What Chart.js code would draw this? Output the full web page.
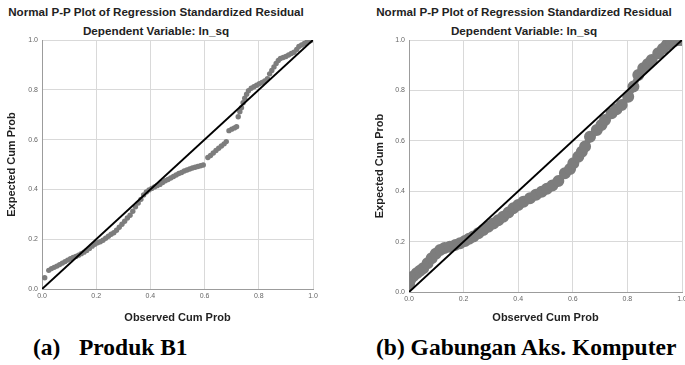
<!DOCTYPE html>
<html>
<head>
<meta charset="utf-8">
<script src="https://cdn.jsdelivr.net/npm/chart.js@4.4.1/dist/chart.umd.min.js"></script>
<style>
body { margin:0; width:685px; height:365px; overflow:hidden; background:#fff; position:relative; font-family:"Liberation Sans", Arial, sans-serif; }
.box { position:absolute; top:0; width:330px; height:330px; }
.title { position:absolute; width:340px; text-align:center; font-weight:bold; color:#222; white-space:nowrap; line-height:14px; }
.t1 { top:5px; font-size:11.6px; }
.t2 { top:24px; font-size:11.7px; }
.cap { position:absolute; top:333px; font-family:"Liberation Serif", "Times New Roman", serif; font-weight:bold; font-size:23.5px; line-height:28px; color:#000; white-space:nowrap; }
</style>
</head>
<body>
<div class="title t1" style="left:-14px">Normal P-P Plot of Regression Standardized Residual</div>
<div class="title t2" style="left:-14px">Dependent Variable: ln_sq</div>
<div class="title t1" style="left:354px">Normal P-P Plot of Regression Standardized Residual</div>
<div class="title t2" style="left:354px">Dependent Variable: ln_sq</div>

<div class="box" style="left:0"><canvas id="chartB1"></canvas></div>
<div class="box" style="left:365px"><canvas id="chartGab"></canvas></div>

<div class="cap" style="left:33px">(a)</div>
<div class="cap" style="left:79px">Produk B1</div>
<div class="cap" style="left:376px">(b) Gabungan Aks. Komputer</div>

<script>
// ---------- DATA ----------
const tickValues = [0, 0.2, 0.4, 0.6, 0.8, 1.0];
const diagonal = [0, 1];

// (a) Produk B1 - observed vs expected cum prob
const observedB1 = [
    0.010,0.025,0.035,0.045,0.055,0.065,0.075,0.085,0.095,0.105,0.115,0.125,0.135,0.145,0.155,0.165,0.175,0.185,0.195,
    0.205,0.215,0.225,0.235,0.245,0.255,0.265,0.275,0.285,0.295,0.305,0.315,0.325,0.335,0.345,0.355,0.365,0.375,0.385,0.395,0.405,
    0.415,0.425,0.435,0.445,0.455,0.465,0.475,0.485,0.495,0.505,0.515,0.525,0.535,0.545,0.555,0.565,0.575,0.585,0.595,
    0.612,0.622,0.632,0.642,0.652,0.662,0.672,0.680,
    0.690,0.700,0.710,0.718,
    0.724,0.730,0.736,0.742,0.748,0.755,0.762,0.772,0.782,0.792,0.802,0.812,0.822,0.832,0.840,0.848,
    0.856,0.864,0.872,0.880,0.890,0.900,0.910,0.920,0.930,0.940,0.948,0.958,0.968,0.978,0.988,0.996
];
const expectedB1 = [
    0.045,0.075,0.082,0.087,0.092,0.098,0.104,0.110,0.116,0.122,0.127,0.131,0.136,0.142,0.148,0.155,0.163,0.172,0.180,
    0.186,0.190,0.196,0.204,0.212,0.220,0.226,0.236,0.248,0.260,0.272,0.285,0.296,0.312,0.330,0.345,0.360,0.378,0.390,0.398,0.404,
    0.410,0.415,0.420,0.428,0.435,0.440,0.446,0.452,0.458,0.464,0.468,0.474,0.478,0.482,0.486,0.489,0.492,0.495,0.498,
    0.528,0.536,0.546,0.556,0.565,0.574,0.583,0.592,
    0.636,0.642,0.647,0.652,
    0.692,0.712,0.728,0.748,0.766,0.782,0.796,0.806,0.812,0.818,0.824,0.830,0.836,0.845,0.864,0.878,
    0.892,0.906,0.918,0.926,0.930,0.934,0.940,0.946,0.951,0.962,0.974,0.980,0.986,0.992,0.996,1.000
];

// (b) Gabungan Aks. Komputer - dense band of residuals
const observedGab = [
    0.000,0.004,0.015,0.028,0.040,0.052,0.068,0.083,0.098,0.114,0.130,0.150,0.170,0.187,0.205,
    0.220,0.236,0.254,0.272,0.290,0.309,0.327,0.345,0.364,0.382,0.400,0.419,0.443,0.465,0.486,
    0.505,0.525,0.547,0.571,0.590,0.602,0.620,0.633,0.645,0.663,0.688,0.705,0.718,0.742,0.760,
    0.779,0.803,0.822,0.840,0.858,0.875,0.889,0.913,0.930,0.944,0.960,0.974,0.988,0.999
];
const expectedGab = [
    0.030,0.048,0.062,0.074,0.084,0.094,0.114,0.134,0.152,0.167,0.175,0.180,0.187,0.193,0.202,
    0.211,0.220,0.233,0.246,0.259,0.272,0.285,0.299,0.315,0.332,0.345,0.358,0.372,0.386,0.398,
    0.410,0.423,0.440,0.471,0.488,0.511,0.537,0.557,0.577,0.616,0.643,0.663,0.683,0.709,0.725,
    0.742,0.775,0.815,0.861,0.888,0.905,0.921,0.947,0.965,0.980,0.990,0.997,1.000,1.000
];

// ---------- CHART BUILDER ----------
function makePlot(id, observed, expected, geo, band) {
    const pts = observed.map((x, i) => ({ x, y: expected[i] }));
    const line = diagonal.map(v => ({ x: v, y: v }));

    const axisTitleFont = { family: 'Liberation Sans', size: 11, weight: 'bold' };
    const tickFont = { family: 'Liberation Sans', size: 7 };

    new Chart(document.getElementById(id), {
        type: 'scatter',
        data: {
            datasets: [
                {
                    data: line, type: 'line', borderColor: '#000', borderWidth: 2,
                    pointRadius: 0, fill: false, order: 0
                },
                {
                    data: pts, backgroundColor: '#7d7d7d', borderColor: '#7d7d7d',
                    pointRadius: band ? 3 : 2.7, borderWidth: band ? 6 : 0,
                    showLine: band, borderCapStyle: 'round', borderJoinStyle: 'round', order: 1
                }
            ]
        },
        options: {
            responsive: true,
            maintainAspectRatio: false,
            animation: false,
            layout: { padding: { top: 40, right: geo.padRight, left: 0, bottom: 0 } },
            plugins: { legend: { display: false }, tooltip: { enabled: false } },
            scales: {
                x: {
                    type: 'linear', min: 0, max: 1,
                    afterBuildTicks: s => { s.ticks = tickValues.map(v => ({ value: v })); },
                    afterFit: s => { s.height = geo.xHeight; },
                    ticks: { color: '#666', font: tickFont, padding: 3, maxRotation: 0, autoSkip: false,
                             callback: v => v.toFixed(1) },
                    grid: { color: '#d9d9d9', drawTicks: false },
                    border: { color: '#9c9c9c' },
                    title: { display: true, text: 'Observed Cum Prob', color: '#222', font: axisTitleFont,
                             padding: { top: 0, bottom: geo.xTitlePad } }
                },
                y: {
                    type: 'linear', min: 0, max: 1,
                    afterBuildTicks: s => { s.ticks = tickValues.map(v => ({ value: v })); },
                    afterFit: s => { s.width = geo.yWidth; },
                    ticks: { color: '#666', font: tickFont, padding: 4, autoSkip: false,
                             callback: v => v.toFixed(1) },
                    grid: { color: '#d9d9d9', drawTicks: false },
                    border: { color: '#9c9c9c' },
                    title: { display: true, text: 'Expected Cum Prob', color: '#222', font: axisTitleFont,
                             padding: { top: geo.yTitlePad, bottom: 0 } }
                }
            }
        }
    });
}

// ---------- INIT ----------
makePlot('chartB1', observedB1, expectedB1,
    { padRight: 17, xHeight: 41, yWidth: 42, xTitlePad: 5, yTitlePad: 5 }, false);
makePlot('chartGab', observedGab, expectedGab,
    { padRight: 13, xHeight: 38, yWidth: 44, xTitlePad: 5, yTitlePad: 8 }, true);
</script>
</body>
</html>
